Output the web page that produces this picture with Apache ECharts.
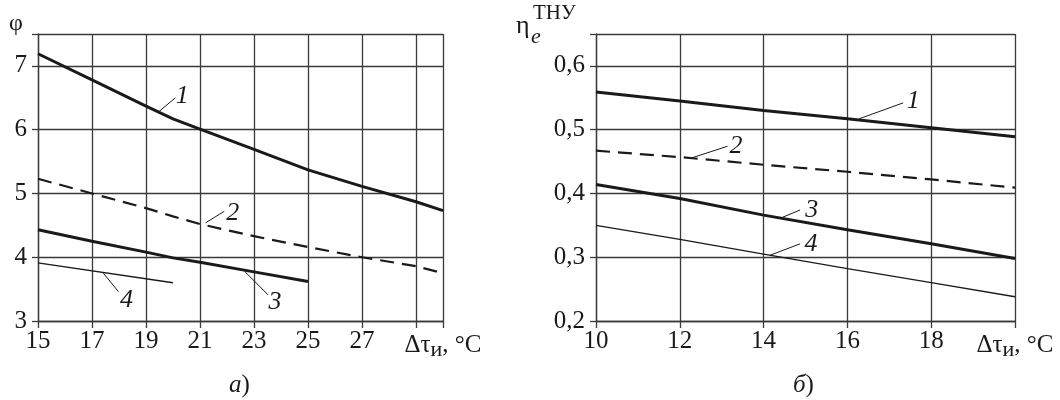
<!DOCTYPE html>
<html>
<head>
<meta charset="utf-8">
<script src="https://cdn.jsdelivr.net/npm/echarts@6/dist/echarts.min.js"></script>
<style>
html, body { margin: 0; padding: 0; background: #fff; }
#chart { width: 1060px; height: 400px; }
</style>
</head>
<body>
<div id="chart"></div>
<script>
// а) phi vs delta tau
var xA1 = [15, 17, 19, 20, 21, 23, 25, 27, 29, 30]
var phi1 = [7.19, 6.78, 6.37, 6.17, 6.01, 5.69, 5.37, 5.11, 4.87, 4.73]
var xA2 = [15, 17, 19, 20, 21, 23, 25, 27, 29, 30]
var phi2 = [5.23, 5.0, 4.77, 4.64, 4.52, 4.33, 4.16, 4.0, 3.86, 3.75]
var xA3 = [15, 17, 19, 20, 21, 23, 25]
var phi3 = [4.43, 4.25, 4.08, 3.99, 3.92, 3.77, 3.62]
var xA4 = [15, 20]
var phi4 = [3.91, 3.6]
// leader lines (start, end) and number positions for curves 1..4
var leadA = [
  [[19.44, 6.27], [20.09, 6.5]],
  [[21.21, 4.54], [21.9, 4.72]],
  [[22.65, 3.78], [23.52, 3.41]],
  [[17.42, 3.75], [17.98, 3.46]]
]
var tagA = [[20.34, 6.52], [22.21, 4.69], [23.78, 3.30], [18.28, 3.33]]

// б) eta vs delta tau
var xB = [10, 12, 14, 16, 18, 20]
var eta1 = [0.559, 0.545, 0.530, 0.517, 0.503, 0.489]
var eta2 = [0.467, 0.457, 0.445, 0.434, 0.422, 0.409]
var eta3 = [0.414, 0.392, 0.366, 0.343, 0.321, 0.298]
var eta4 = [0.350, 0.328, 0.305, 0.282, 0.260, 0.238]
var leadB = [
  [[16.28, 0.517], [17.33, 0.542]],
  [[12.25, 0.455], [13.14, 0.474]],
  [[14.43, 0.362], [14.87, 0.374]],
  [[14.15, 0.303], [14.87, 0.321]]
]
var tagB = [[17.57, 0.545], [13.34, 0.474], [15.15, 0.374], [15.13, 0.320]]
var tagNames = ['1', '2', '3', '4']

var FONT = 'Liberation Serif'
var INK = '#1a1a1a'
var GRIDC = '#3a3a3a'

function zip(xs, ys) {
  return xs.map(function (x, i) { return [x, ys[i]] })
}

function xAxisOf(idx, min, max, last) {
  return {
    gridIndex: idx, type: 'value', min: min, max: max, interval: 2,
    axisLine: { show: true, lineStyle: { color: GRIDC, width: 1.3 } },
    axisTick: { show: true, inside: false, length: 7, lineStyle: { color: GRIDC, width: 1.3 } },
    splitLine: { show: true, lineStyle: { color: GRIDC, width: 1.3 } },
    axisLabel: {
      margin: 8, color: INK, fontFamily: FONT, fontSize: 25,
      formatter: function (v) {
        if (v === max) return '{a|Δτ}{s|и}{a|, °C}'
        if (v === last) return ''
        return String(v)
      },
      rich: {
        a: { fontFamily: FONT, fontSize: 25, color: INK },
        s: { fontFamily: FONT, fontSize: 22, color: INK, padding: [10, 0, 0, 0] }
      }
    }
  }
}

function yAxisOf(idx, min, max, interval, fmt) {
  return {
    gridIndex: idx, type: 'value', min: min, max: max, interval: interval,
    axisLine: { show: true, lineStyle: { color: GRIDC, width: 1.3 } },
    axisTick: { show: true, length: 6, lineStyle: { color: GRIDC, width: 1.3 } },
    splitLine: { show: true, lineStyle: { color: GRIDC, width: 1.3 } },
    axisLabel: { margin: 11, color: INK, fontFamily: FONT, fontSize: 25, formatter: fmt }
  }
}

function curve(idx, data, width, dashed) {
  return {
    type: 'line', xAxisIndex: idx, yAxisIndex: idx, data: data,
    symbol: 'none', silent: true, z: 5,
    lineStyle: { color: INK, width: width, type: dashed ? [14, 8] : 'solid' }
  }
}

function leaders(idx, list) {
  return list.map(function (seg) {
    return {
      type: 'line', xAxisIndex: idx, yAxisIndex: idx, data: seg,
      symbol: 'none', silent: true, z: 6,
      lineStyle: { color: INK, width: 1 }
    }
  })
}

function tags(idx, list) {
  return {
    type: 'scatter', xAxisIndex: idx, yAxisIndex: idx, silent: true, z: 7,
    symbolSize: 0,
    itemStyle: { color: INK, opacity: 1 },
    data: list.map(function (p, i) { return { value: p, name: tagNames[i] } }),
    label: {
      show: true, position: 'inside', formatter: '{b}', opacity: 1,
      fontFamily: FONT, fontStyle: 'italic', fontSize: 26, color: INK
    }
  }
}

var chart = echarts.init(document.getElementById('chart'))
chart.setOption({
  animation: false,
  backgroundColor: '#fff',
  grid: [
    { left: 38, top: 34, width: 405, height: 287, outerBoundsMode: 'none' },
    { left: 596, top: 34, width: 419, height: 287, outerBoundsMode: 'none' }
  ],
  xAxis: [xAxisOf(0, 15, 30, 29), xAxisOf(1, 10, 20, -1)],
  yAxis: [
    yAxisOf(0, 3, 7.5, 1, function (v) { return v > 7.2 ? '' : String(v) }),
    yAxisOf(1, 0.2, 0.65, 0.1, function (v) { return v > 0.62 ? '' : v.toFixed(1).replace('.', ',') })
  ],
  series: [
    curve(0, zip(xA1, phi1), 3, false),
    curve(0, zip(xA2, phi2), 2.2, true),
    curve(0, zip(xA3, phi3), 3, false),
    curve(0, zip(xA4, phi4), 1.3, false),
    curve(1, zip(xB, eta1), 3, false),
    curve(1, zip(xB, eta2), 2.2, true),
    curve(1, zip(xB, eta3), 3, false),
    curve(1, zip(xB, eta4), 1.3, false),
    tags(0, tagA),
    tags(1, tagB)
  ].concat(leaders(0, leadA), leaders(1, leadB)),
  graphic: [
    { type: 'text', left: 9, top: 12, style: { text: 'φ', font: '24px "' + FONT + '"', fill: INK } },
    { type: 'text', left: 516, top: 13, style: { text: 'η', font: '26px "' + FONT + '"', fill: INK } },
    { type: 'text', left: 531, top: 26, style: { text: 'e', font: 'italic 22px "' + FONT + '"', fill: INK } },
    { type: 'text', left: 533, top: 3, style: { text: 'ТНУ', font: '21px "' + FONT + '"', fill: INK } },
    {
      type: 'text', left: 229, top: 373,
      style: {
        text: '{i|а}{n|)}',
        rich: {
          i: { fontFamily: FONT, fontStyle: 'italic', fontSize: 25, fill: INK },
          n: { fontFamily: FONT, fontSize: 25, fill: INK }
        }
      }
    },
    {
      type: 'text', left: 793, top: 373,
      style: {
        text: '{i|б}{n|)}',
        rich: {
          i: { fontFamily: FONT, fontStyle: 'italic', fontSize: 25, fill: INK },
          n: { fontFamily: FONT, fontSize: 25, fill: INK }
        }
      }
    }
  ]
})
</script>
</body>
</html>
